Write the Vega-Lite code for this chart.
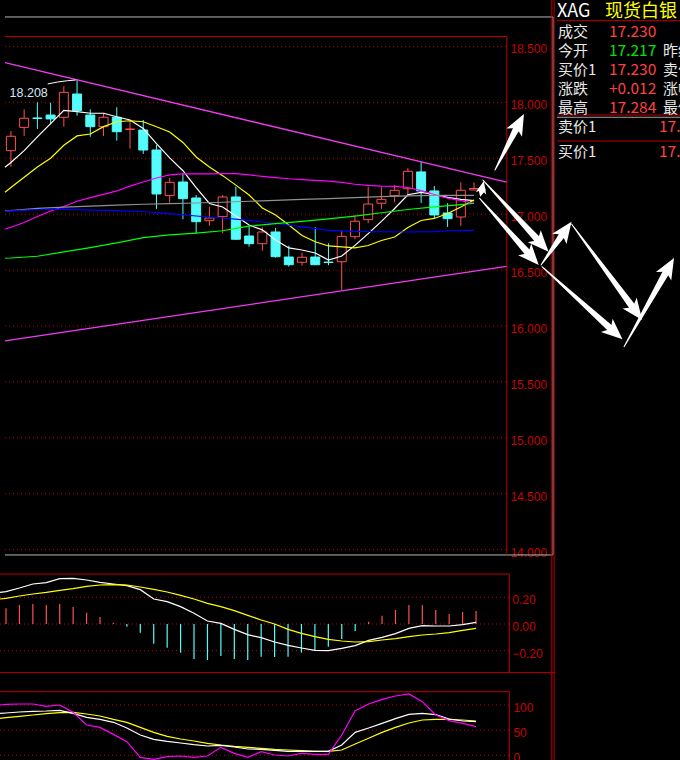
{
  "$schema": "https://vega.github.io/schema/vega-lite/v6.json",
  "width": 680,
  "height": 760,
  "autosize": {"type": "none"},
  "padding": 0,
  "background": "#000000",
  "config": {"view": {"stroke": null}},
  "datasets": {
    "candles": [
      {"i":0,"o":17.568,"h":17.744,"l":17.425,"c":17.697},
      {"i":1,"o":17.777,"h":17.938,"l":17.700,"c":17.858},
      {"i":2,"o":17.861,"h":18.001,"l":17.762,"c":17.856},
      {"i":3,"o":17.887,"h":17.997,"l":17.804,"c":17.852},
      {"i":4,"o":17.867,"h":18.144,"l":17.783,"c":18.090},
      {"i":5,"o":18.075,"h":18.208,"l":17.881,"c":17.926},
      {"i":6,"o":17.887,"h":17.938,"l":17.693,"c":17.783},
      {"i":7,"o":17.783,"h":17.903,"l":17.700,"c":17.867},
      {"i":8,"o":17.867,"h":17.956,"l":17.658,"c":17.738},
      {"i":9,"o":17.758,"h":17.843,"l":17.586,"c":17.762},
      {"i":10,"o":17.753,"h":17.843,"l":17.539,"c":17.574},
      {"i":11,"o":17.574,"h":17.619,"l":17.047,"c":17.181},
      {"i":12,"o":17.166,"h":17.324,"l":17.103,"c":17.285},
      {"i":13,"o":17.288,"h":17.366,"l":16.955,"c":17.139},
      {"i":14,"o":17.145,"h":17.172,"l":16.829,"c":16.933},
      {"i":15,"o":16.942,"h":17.067,"l":16.897,"c":16.966},
      {"i":16,"o":16.978,"h":17.172,"l":16.829,"c":17.154},
      {"i":17,"o":17.154,"h":17.246,"l":16.769,"c":16.776},
      {"i":18,"o":16.805,"h":16.895,"l":16.709,"c":16.736},
      {"i":19,"o":16.736,"h":16.883,"l":16.674,"c":16.841},
      {"i":20,"o":16.841,"h":16.877,"l":16.611,"c":16.620},
      {"i":21,"o":16.617,"h":16.718,"l":16.531,"c":16.548},
      {"i":22,"o":16.570,"h":16.656,"l":16.539,"c":16.615},
      {"i":23,"o":16.617,"h":16.883,"l":16.546,"c":16.548},
      {"i":24,"o":16.572,"h":16.740,"l":16.543,"c":16.568},
      {"i":25,"o":16.575,"h":16.856,"l":16.322,"c":16.802},
      {"i":26,"o":16.799,"h":16.990,"l":16.776,"c":16.937},
      {"i":27,"o":16.951,"h":17.246,"l":16.919,"c":17.091},
      {"i":28,"o":17.098,"h":17.241,"l":17.047,"c":17.133},
      {"i":29,"o":17.166,"h":17.261,"l":17.107,"c":17.214},
      {"i":30,"o":17.228,"h":17.411,"l":17.172,"c":17.384},
      {"i":31,"o":17.378,"h":17.470,"l":17.100,"c":17.208},
      {"i":32,"o":17.208,"h":17.252,"l":16.963,"c":16.993},
      {"i":33,"o":17.011,"h":17.098,"l":16.886,"c":16.960},
      {"i":34,"o":16.975,"h":17.285,"l":16.895,"c":17.214},
      {"i":35,"o":17.217,"h":17.284,"l":17.215,"c":17.230}
    ],
    "ma": [
      {"s":"MA5","i":-0.4468,"v":17.420},{"s":"MA5","i":0,"v":17.462},{"s":"MA5","i":1,"v":17.569},{"s":"MA5","i":2,"v":17.691},{"s":"MA5","i":3,"v":17.810},{"s":"MA5","i":4,"v":17.929},{"s":"MA5","i":5,"v":17.917},{"s":"MA5","i":6,"v":17.903},{"s":"MA5","i":7,"v":17.903},{"s":"MA5","i":8,"v":17.872},{"s":"MA5","i":9,"v":17.843},{"s":"MA5","i":10,"v":17.767},{"s":"MA5","i":11,"v":17.631},{"s":"MA5","i":12,"v":17.504},{"s":"MA5","i":13,"v":17.389},{"s":"MA5","i":14,"v":17.238},{"s":"MA5","i":15,"v":17.096},{"s":"MA5","i":16,"v":17.064},{"s":"MA5","i":17,"v":16.984},{"s":"MA5","i":18,"v":16.903},{"s":"MA5","i":19,"v":16.860},{"s":"MA5","i":20,"v":16.770},{"s":"MA5","i":21,"v":16.698},{"s":"MA5","i":22,"v":16.680},{"s":"MA5","i":23,"v":16.653},{"s":"MA5","i":24,"v":16.590},{"s":"MA5","i":25,"v":16.626},{"s":"MA5","i":26,"v":16.721},{"s":"MA5","i":27,"v":16.826},{"s":"MA5","i":28,"v":16.936},{"s":"MA5","i":29,"v":17.051},{"s":"MA5","i":30,"v":17.174},{"s":"MA5","i":31,"v":17.196},{"s":"MA5","i":32,"v":17.176},{"s":"MA5","i":33,"v":17.150},{"s":"MA5","i":34,"v":17.133},{"s":"MA5","i":35,"v":17.121},
      {"s":"MA10","i":-0.4468,"v":17.196},{"s":"MA10","i":0,"v":17.239},{"s":"MA10","i":1,"v":17.331},{"s":"MA10","i":2,"v":17.422},{"s":"MA10","i":3,"v":17.500},{"s":"MA10","i":4,"v":17.617},{"s":"MA10","i":5,"v":17.700},{"s":"MA10","i":6,"v":17.717},{"s":"MA10","i":7,"v":17.783},{"s":"MA10","i":8,"v":17.827},{"s":"MA10","i":9,"v":17.836},{"s":"MA10","i":10,"v":17.827},{"s":"MA10","i":11,"v":17.782},{"s":"MA10","i":12,"v":17.735},{"s":"MA10","i":13,"v":17.642},{"s":"MA10","i":14,"v":17.512},{"s":"MA10","i":15,"v":17.422},{"s":"MA10","i":16,"v":17.345},{"s":"MA10","i":17,"v":17.260},{"s":"MA10","i":18,"v":17.172},{"s":"MA10","i":19,"v":17.056},{"s":"MA10","i":20,"v":16.993},{"s":"MA10","i":21,"v":16.903},{"s":"MA10","i":22,"v":16.810},{"s":"MA10","i":23,"v":16.754},{"s":"MA10","i":24,"v":16.716},{"s":"MA10","i":25,"v":16.707},{"s":"MA10","i":26,"v":16.698},{"s":"MA10","i":27,"v":16.720},{"s":"MA10","i":28,"v":16.765},{"s":"MA10","i":29,"v":16.796},{"s":"MA10","i":30,"v":16.881},{"s":"MA10","i":31,"v":16.944},{"s":"MA10","i":32,"v":16.962},{"s":"MA10","i":33,"v":17.006},{"s":"MA10","i":34,"v":17.064},{"s":"MA10","i":35,"v":17.127},
      {"s":"MA20","i":-0.4468,"v":16.865},{"s":"MA20","i":0,"v":16.883},{"s":"MA20","i":1,"v":16.926},{"s":"MA20","i":2,"v":16.980},{"s":"MA20","i":3,"v":17.029},{"s":"MA20","i":4,"v":17.069},{"s":"MA20","i":5,"v":17.116},{"s":"MA20","i":6,"v":17.148},{"s":"MA20","i":7,"v":17.178},{"s":"MA20","i":8,"v":17.208},{"s":"MA20","i":9,"v":17.251},{"s":"MA20","i":10,"v":17.288},{"s":"MA20","i":11,"v":17.324},{"s":"MA20","i":12,"v":17.351},{"s":"MA20","i":13,"v":17.360},{"s":"MA20","i":14,"v":17.360},{"s":"MA20","i":15,"v":17.360},{"s":"MA20","i":16,"v":17.363},{"s":"MA20","i":17,"v":17.363},{"s":"MA20","i":18,"v":17.351},{"s":"MA20","i":19,"v":17.338},{"s":"MA20","i":20,"v":17.327},{"s":"MA20","i":21,"v":17.317},{"s":"MA20","i":22,"v":17.310},{"s":"MA20","i":23,"v":17.302},{"s":"MA20","i":24,"v":17.295},{"s":"MA20","i":25,"v":17.285},{"s":"MA20","i":26,"v":17.268},{"s":"MA20","i":27,"v":17.258},{"s":"MA20","i":28,"v":17.251},{"s":"MA20","i":29,"v":17.248},{"s":"MA20","i":30,"v":17.239},{"s":"MA20","i":31,"v":17.211},{"s":"MA20","i":32,"v":17.176},{"s":"MA20","i":33,"v":17.143},{"s":"MA20","i":34,"v":17.122},{"s":"MA20","i":35,"v":17.098},
      {"s":"MA30","i":-0.4468,"v":17.029},{"s":"MA30","i":0,"v":17.032},{"s":"MA30","i":2,"v":17.052},{"s":"MA30","i":4,"v":17.064},{"s":"MA30","i":6,"v":17.073},{"s":"MA30","i":8,"v":17.081},{"s":"MA30","i":10,"v":17.089},{"s":"MA30","i":12,"v":17.095},{"s":"MA30","i":14,"v":17.100},{"s":"MA30","i":16,"v":17.107},{"s":"MA30","i":18,"v":17.116},{"s":"MA30","i":20,"v":17.123},{"s":"MA30","i":22,"v":17.132},{"s":"MA30","i":24,"v":17.140},{"s":"MA30","i":26,"v":17.149},{"s":"MA30","i":28,"v":17.158},{"s":"MA30","i":30,"v":17.164},{"s":"MA30","i":32,"v":17.169},{"s":"MA30","i":35,"v":17.169},
      {"s":"MA120","i":-0.4468,"v":17.026},{"s":"MA120","i":0,"v":17.029},{"s":"MA120","i":2,"v":17.041},{"s":"MA120","i":4,"v":17.045},{"s":"MA120","i":6,"v":17.036},{"s":"MA120","i":8,"v":17.032},{"s":"MA120","i":10,"v":17.022},{"s":"MA120","i":12,"v":17.006},{"s":"MA120","i":14,"v":16.984},{"s":"MA120","i":16,"v":16.966},{"s":"MA120","i":18,"v":16.944},{"s":"MA120","i":20,"v":16.917},{"s":"MA120","i":22,"v":16.886},{"s":"MA120","i":24,"v":16.855},{"s":"MA120","i":26,"v":16.847},{"s":"MA120","i":28,"v":16.843},{"s":"MA120","i":30,"v":16.841},{"s":"MA120","i":32,"v":16.845},{"s":"MA120","i":33,"v":16.852},{"s":"MA120","i":35,"v":16.856},
      {"s":"MA60","i":-0.4468,"v":16.606},{"s":"MA60","i":0,"v":16.608},{"s":"MA60","i":2,"v":16.624},{"s":"MA60","i":4,"v":16.663},{"s":"MA60","i":6,"v":16.701},{"s":"MA60","i":8,"v":16.744},{"s":"MA60","i":10,"v":16.791},{"s":"MA60","i":12,"v":16.815},{"s":"MA60","i":14,"v":16.831},{"s":"MA60","i":16,"v":16.852},{"s":"MA60","i":17,"v":16.874},{"s":"MA60","i":18,"v":16.893},{"s":"MA60","i":20,"v":16.916},{"s":"MA60","i":22,"v":16.936},{"s":"MA60","i":24,"v":16.958},{"s":"MA60","i":26,"v":16.983},{"s":"MA60","i":28,"v":17.013},{"s":"MA60","i":30,"v":17.042},{"s":"MA60","i":32,"v":17.066},{"s":"MA60","i":34,"v":17.086},{"s":"MA60","i":35,"v":17.098}
    ],
    "trend": [
      {"t":"up","i":-0.4468,"p":18.355},{"t":"up","i":37.45,"p":17.287},
      {"t":"lo","i":-0.4468,"p":15.866},{"t":"lo","i":37.45,"p":16.534}
    ],
    "leader": [
      {"i":2.777,"p":18.165},{"i":3.522,"p":18.182},{"i":4.267,"p":18.194},{"i":4.892,"p":18.200}
    ],
    "arrows": [
      {"a":"A","part":"tail","i":36.582,"p":17.395},{"a":"A","part":"neck","i":38.287,"p":17.785},{"a":"A","part":"tip","i":38.771,"p":17.896},
      {"a":"B","part":"tail","i":35.666,"p":17.306},{"a":"B","part":"neck","i":39.926,"p":16.757},{"a":"B","part":"tip","i":40.633,"p":16.665},
      {"a":"C","part":"tail","i":35.421,"p":17.142},{"a":"C","part":"neck","i":39.189,"p":16.639},{"a":"C","part":"tip","i":39.888,"p":16.546},
      {"a":"S","part":"tail","i":35.480,"p":17.163},{"a":"S","part":"neck","i":35.592,"p":17.218},{"a":"S","part":"tip","i":35.741,"p":17.297},
      {"a":"D","part":"tail","i":40.060,"p":16.546},{"a":"D","part":"neck","i":41.757,"p":16.831},{"a":"D","part":"tip","i":42.368,"p":16.933},
      {"a":"E","part":"tail","i":42.368,"p":16.912},{"a":"E","part":"neck","i":47.081,"p":16.154},{"a":"E","part":"tip","i":47.707,"p":16.054},
      {"a":"F","part":"tail","i":40.134,"p":16.530},{"a":"F","part":"neck","i":45.436,"p":15.964},{"a":"F","part":"tip","i":46.218,"p":15.881},
      {"a":"G","part":"tail","i":46.336,"p":15.815},{"a":"G","part":"neck","i":49.598,"p":16.499},{"a":"G","part":"tip","i":50.112,"p":16.608}
    ],
    "macd": [
      {"i":-0.4468,"dif":0.2375,"dea":0.1875},
      {"i":0,"hist":0.1175,"dif":0.2425,"dea":0.1925},
      {"i":1,"hist":0.1425,"dif":0.27,"dea":0.21},
      {"i":2,"hist":0.15,"dif":0.30,"dea":0.225},
      {"i":3,"hist":0.1425,"dif":0.31,"dea":0.2375},
      {"i":4,"hist":0.15,"dif":0.34,"dea":0.2525},
      {"i":5,"hist":0.1275,"dif":0.3425,"dea":0.265},
      {"i":6,"hist":0.085,"dif":0.33,"dea":0.2825},
      {"i":7,"hist":0.0525,"dif":0.3125,"dea":0.2925},
      {"i":8,"hist":0.01,"dif":0.30,"dea":0.295},
      {"i":9,"hist":-0.02,"dif":0.2875,"dea":0.2925},
      {"i":10,"hist":-0.065,"dif":0.2575,"dea":0.2775},
      {"i":11,"hist":-0.1475,"dif":0.1875,"dea":0.26},
      {"i":12,"hist":-0.1775,"dif":0.1675,"dea":0.24},
      {"i":13,"hist":-0.215,"dif":0.13,"dea":0.215},
      {"i":14,"hist":-0.2625,"dif":0.08,"dea":0.1875},
      {"i":15,"hist":-0.27,"dif":0.0225,"dea":0.155},
      {"i":16,"hist":-0.24,"dif":0.005,"dea":0.13},
      {"i":17,"hist":-0.2625,"dif":-0.04,"dea":0.10},
      {"i":18,"hist":-0.27,"dif":-0.08,"dea":0.065},
      {"i":19,"hist":-0.245,"dif":-0.1025,"dea":0.03},
      {"i":20,"hist":-0.2475,"dif":-0.135,"dea":0.0},
      {"i":21,"hist":-0.245,"dif":-0.16,"dea":-0.04},
      {"i":22,"hist":-0.215,"dif":-0.18,"dea":-0.07},
      {"i":23,"hist":-0.2,"dif":-0.1975,"dea":-0.095},
      {"i":24,"hist":-0.17,"dif":-0.20,"dea":-0.115},
      {"i":25,"hist":-0.1125,"dif":-0.1825,"dea":-0.1275},
      {"i":26,"hist":-0.0525,"dif":-0.1625,"dea":-0.135},
      {"i":27,"hist":0.0175,"dif":-0.1225,"dea":-0.1325},
      {"i":28,"hist":0.0625,"dif":-0.10,"dea":-0.12},
      {"i":29,"hist":0.105,"dif":-0.0725,"dea":-0.11},
      {"i":30,"hist":0.1425,"dif":-0.0325,"dea":-0.095},
      {"i":31,"hist":0.1425,"dif":-0.0125,"dea":-0.0825},
      {"i":32,"hist":0.105,"dif":-0.015,"dea":-0.075},
      {"i":33,"hist":0.075,"dif":-0.015,"dea":-0.065},
      {"i":34,"hist":0.09,"dif":-0.005,"dea":-0.0475},
      {"i":35,"hist":0.0975,"dif":0.0125,"dea":-0.0325}
    ],
    "kdj": [
      {"i":-0.4468,"k":83.4,"d":73.5,"j":100},
      {"i":0,"k":84.1,"d":74.8,"j":101.3},
      {"i":1,"k":86.1,"d":77.5,"j":102},
      {"i":2,"k":87.4,"d":80.1,"j":102},
      {"i":3,"k":88.1,"d":82.8,"j":97.4},
      {"i":4,"k":89.4,"d":84.8,"j":100},
      {"i":5,"k":83.4,"d":85.4,"j":85.4},
      {"i":6,"k":75.5,"d":82.1,"j":60.3},
      {"i":7,"k":71.5,"d":78.2,"j":55.6},
      {"i":8,"k":65.6,"d":71.5,"j":41.7},
      {"i":9,"k":54.3,"d":65.6,"j":27.2},
      {"i":10,"k":40.4,"d":55.6,"j":-4.0},
      {"i":11,"k":31.8,"d":45.7,"j":-7.9},
      {"i":12,"k":27.8,"d":37.8,"j":-2.6},
      {"i":13,"k":24.5,"d":32.5,"j":-1.3},
      {"i":14,"k":21.2,"d":28.5,"j":-4.0},
      {"i":15,"k":18.5,"d":23.8,"j":-1.3},
      {"i":16,"k":19.9,"d":20.5,"j":15.9},
      {"i":17,"k":16.6,"d":17.9,"j":4.0},
      {"i":18,"k":12.6,"d":15.9,"j":-4.0},
      {"i":19,"k":11.9,"d":13.9,"j":7.3},
      {"i":20,"k":9.9,"d":11.9,"j":0.7},
      {"i":21,"k":7.9,"d":10.6,"j":-1.3},
      {"i":22,"k":7.9,"d":9.3,"j":4.0},
      {"i":23,"k":7.9,"d":7.9,"j":2.0},
      {"i":24,"k":7.9,"d":7.9,"j":2.0},
      {"i":25,"k":20.5,"d":10.6,"j":40.4},
      {"i":26,"k":45.7,"d":22.5,"j":88.7},
      {"i":27,"k":54.3,"d":33.8,"j":102},
      {"i":28,"k":63.6,"d":45.7,"j":111.3},
      {"i":29,"k":72.9,"d":55.6,"j":117.9},
      {"i":30,"k":81.5,"d":64.2,"j":121.9},
      {"i":31,"k":83.4,"d":70.2,"j":106.6},
      {"i":32,"k":80.8,"d":71.5,"j":80.1},
      {"i":33,"k":72.2,"d":71.5,"j":68.9},
      {"i":34,"k":68.2,"d":70.2,"j":63.6},
      {"i":35,"k":66.9,"d":68.2,"j":57}
    ],
    "gridMain": [{"p":14.0},{"p":14.5},{"p":15.0},{"p":15.5},{"p":16.0},{"p":16.5},{"p":17.0},{"p":17.5},{"p":18.0},{"p":18.5}],
    "gridMacd": [{"m":-0.2},{"m":0},{"m":0.2}],
    "gridKdj": [{"k":0},{"k":50},{"k":100}],
    "info": [
      {"r":-0.06,"c":-0.02,"t":"XAG","k":"hx"},
      {"r":-0.06,"c":0.92,"t":"现货白银","k":"hy"},
      {"r":1,"c":0,"t":"成交","k":"lab"},{"r":1,"c":1,"t":"17.230","k":"up"},
      {"r":2,"c":0,"t":"今开","k":"lab"},{"r":2,"c":1,"t":"17.217","k":"dn"},{"r":2,"c":2.06,"t":"昨结","k":"lab"},
      {"r":3,"c":0,"t":"买价1","k":"lab"},{"r":3,"c":1,"t":"17.230","k":"up"},{"r":3,"c":2.06,"t":"卖价1","k":"lab"},
      {"r":4,"c":0,"t":"涨跌","k":"lab"},{"r":4,"c":1,"t":"+0.012","k":"up"},{"r":4,"c":2.06,"t":"涨幅","k":"lab"},
      {"r":5,"c":0,"t":"最高","k":"lab"},{"r":5,"c":1,"t":"17.284","k":"up"},{"r":5,"c":2.06,"t":"最低","k":"lab"},
      {"r":6,"c":0,"t":"卖价1","k":"lab"},{"r":6,"c":1.98,"t":"17.260","k":"up"},
      {"r":7.27,"c":0,"t":"买价1","k":"lab"},{"r":7.27,"c":1.98,"t":"17.230","k":"up"}
    ]
  },
  "resolve": {"scale": {"x": "independent", "y": "independent", "color": "independent", "shape": "independent", "size": "independent"}},
  "layer": [
    {
      "layer": [
        {"data": {"name": "gridMain"}, "mark": {"type": "rule", "color": "#C00000", "strokeDash": [1, 3], "strokeWidth": 1},
         "encoding": {"x": {"datum": -0.4468, "type": "quantitative", "scale": {"domain": [-0.4468, 50.186], "nice": false, "zero": false}, "axis": null}, "x2": {"datum": 37.476},
                      "y": {"field": "p", "type": "quantitative", "scale": {"domain": [12.1181, 18.9159], "nice": false, "zero": false}, "axis": null}}},
        {"data": {"name": "gridMain"}, "mark": {"type": "text", "align": "left", "baseline": "middle", "dy": 3, "font": "Liberation Sans", "fontSize": 12, "color": "#C80000"},
         "encoding": {"x": {"datum": 37.75, "type": "quantitative", "scale": {"domain": [-0.4468, 50.186], "nice": false, "zero": false}, "axis": null},
                      "y": {"field": "p", "type": "quantitative", "scale": {"domain": [12.1181, 18.9159], "nice": false, "zero": false}, "axis": null},
                      "text": {"field": "p", "type": "quantitative", "format": ".3f"}}},
        {"data": {"values": [{}]}, "mark": {"type": "rule", "color": "#B8B8B8", "strokeWidth": 1},
         "encoding": {"x": {"datum": -0.4468, "type": "quantitative", "scale": {"domain": [-0.4468, 50.186], "nice": false, "zero": false}, "axis": null}, "x2": {"datum": 40.968},
                      "y": {"datum": 18.764, "type": "quantitative", "scale": {"domain": [12.1181, 18.9159], "nice": false, "zero": false}, "axis": null}}},
        {"data": {"values": [{}]}, "mark": {"type": "rule", "color": "#B8B8B8", "strokeWidth": 1},
         "encoding": {"x": {"datum": -0.4468, "type": "quantitative", "scale": {"domain": [-0.4468, 50.186], "nice": false, "zero": false}, "axis": null}, "x2": {"datum": 40.968},
                      "y": {"datum": 13.952, "type": "quantitative", "scale": {"domain": [12.1181, 18.9159], "nice": false, "zero": false}, "axis": null}}},
        {"data": {"values": [{}]}, "mark": {"type": "rule", "color": "#B8B8B8", "strokeWidth": 1},
         "encoding": {"x": {"datum": 40.968, "type": "quantitative", "scale": {"domain": [-0.4468, 50.186], "nice": false, "zero": false}, "axis": null},
                      "y": {"datum": 18.764, "type": "quantitative", "scale": {"domain": [12.1181, 18.9159], "nice": false, "zero": false}, "axis": null}, "y2": {"datum": 13.952}}},
        {"data": {"values": [{}]}, "mark": {"type": "rule", "color": "#C00000", "strokeWidth": 1},
         "encoding": {"x": {"datum": -0.4468, "type": "quantitative", "scale": {"domain": [-0.4468, 50.186], "nice": false, "zero": false}, "axis": null}, "x2": {"datum": 37.476},
                      "y": {"datum": 18.589, "type": "quantitative", "scale": {"domain": [12.1181, 18.9159], "nice": false, "zero": false}, "axis": null}}},
        {"data": {"values": [{}]}, "mark": {"type": "rule", "color": "#C00000", "strokeWidth": 1},
         "encoding": {"x": {"datum": 37.476, "type": "quantitative", "scale": {"domain": [-0.4468, 50.186], "nice": false, "zero": false}, "axis": null},
                      "y": {"datum": 18.589, "type": "quantitative", "scale": {"domain": [12.1181, 18.9159], "nice": false, "zero": false}, "axis": null}, "y2": {"datum": 13.952}}},
        {"data": {"values": [{}]}, "mark": {"type": "rule", "color": "#C00000", "strokeWidth": 1},
         "encoding": {"x": {"datum": 40.879, "type": "quantitative", "scale": {"domain": [-0.4468, 50.186], "nice": false, "zero": false}, "axis": null},
                      "y": {"datum": 18.9159, "type": "quantitative", "scale": {"domain": [12.1181, 18.9159], "nice": false, "zero": false}, "axis": null}, "y2": {"datum": 12.1181}}},
        {"data": {"values": [{}]}, "mark": {"type": "rule", "color": "#C00000", "strokeWidth": 1},
         "encoding": {"x": {"datum": 41.05, "type": "quantitative", "scale": {"domain": [-0.4468, 50.186], "nice": false, "zero": false}, "axis": null},
                      "y": {"datum": 18.9159, "type": "quantitative", "scale": {"domain": [12.1181, 18.9159], "nice": false, "zero": false}, "axis": null}, "y2": {"datum": 12.1181}}},
        {"data": {"name": "candles"}, "mark": {"type": "rule", "strokeWidth": 1},
         "encoding": {"x": {"field": "i", "type": "quantitative", "scale": {"domain": [-0.4468, 50.186], "nice": false, "zero": false}, "axis": null},
                      "y": {"field": "l", "type": "quantitative", "scale": {"domain": [12.1181, 18.9159], "nice": false, "zero": false}, "axis": null}, "y2": {"field": "h"},
                      "color": {"condition": {"test": "datum.c >= datum.o", "value": "#FF5050"}, "value": "#54FCFC"}}},
        {"data": {"name": "candles"}, "mark": {"type": "bar", "width": 9, "strokeWidth": 1},
         "encoding": {"x": {"field": "i", "type": "quantitative", "scale": {"domain": [-0.4468, 50.186], "nice": false, "zero": false}, "axis": null},
                      "y": {"field": "o", "type": "quantitative", "scale": {"domain": [12.1181, 18.9159], "nice": false, "zero": false}, "axis": null}, "y2": {"field": "c"},
                      "fill": {"condition": {"test": "datum.c >= datum.o", "value": "#000000"}, "value": "#54FCFC"},
                      "stroke": {"condition": {"test": "datum.c >= datum.o", "value": "#FF5050"}, "value": "#54FCFC"}}},
        {"data": {"name": "ma"}, "mark": {"type": "line", "strokeWidth": 1.2},
         "encoding": {"x": {"field": "i", "type": "quantitative", "scale": {"domain": [-0.4468, 50.186], "nice": false, "zero": false}, "axis": null},
                      "y": {"field": "v", "type": "quantitative", "scale": {"domain": [12.1181, 18.9159], "nice": false, "zero": false}, "axis": null},
                      "color": {"field": "s", "type": "nominal", "scale": {"domain": ["MA5", "MA10", "MA20", "MA30", "MA60", "MA120"], "range": ["#FFFFFF", "#FFFF00", "#FF00FF", "#909090", "#00FF00", "#0000FF"]}, "legend": null}}},
        {"data": {"name": "trend"}, "mark": {"type": "line", "color": "#F03CF0", "strokeWidth": 1.3},
         "encoding": {"x": {"field": "i", "type": "quantitative", "scale": {"domain": [-0.4468, 50.186], "nice": false, "zero": false}, "axis": null},
                      "y": {"field": "p", "type": "quantitative", "scale": {"domain": [12.1181, 18.9159], "nice": false, "zero": false}, "axis": null},
                      "detail": {"field": "t", "type": "nominal"}}},
        {"data": {"name": "leader"}, "mark": {"type": "line", "color": "#FFFFFF", "strokeWidth": 1},
         "encoding": {"x": {"field": "i", "type": "quantitative", "scale": {"domain": [-0.4468, 50.186], "nice": false, "zero": false}, "axis": null},
                      "y": {"field": "p", "type": "quantitative", "scale": {"domain": [12.1181, 18.9159], "nice": false, "zero": false}, "axis": null}}},
        {"data": {"name": "candles"}, "transform": [{"filter": "datum.i == 5"}],
         "mark": {"type": "text", "align": "left", "baseline": "middle", "dx": -67.5, "dy": 13.7, "font": "Liberation Sans", "fontSize": 12.5, "color": "#D8E6F8"},
         "encoding": {"x": {"field": "i", "type": "quantitative", "scale": {"domain": [-0.4468, 50.186], "nice": false, "zero": false}, "axis": null},
                      "y": {"field": "h", "type": "quantitative", "scale": {"domain": [12.1181, 18.9159], "nice": false, "zero": false}, "axis": null},
                      "text": {"field": "h", "type": "quantitative", "format": ".3f"}}},
        {"data": {"name": "arrows"}, "transform": [{"filter": "datum.part !== 'tip'"}], "mark": {"type": "trail", "color": "#FFFFFF"},
         "encoding": {"x": {"field": "i", "type": "quantitative", "scale": {"domain": [-0.4468, 50.186], "nice": false, "zero": false}, "axis": null},
                      "y": {"field": "p", "type": "quantitative", "scale": {"domain": [12.1181, 18.9159], "nice": false, "zero": false}, "axis": null},
                      "detail": {"field": "a", "type": "nominal"},
                      "size": {"condition": {"test": "datum.part === 'neck'", "value": 7}, "value": 1}}},
        {"data": {"name": "arrows"}, "transform": [{"filter": "datum.part === 'tip'"}], "mark": {"type": "point", "filled": true, "color": "#FFFFFF", "opacity": 1, "size": 1764, "strokeWidth": 0},
         "encoding": {"x": {"field": "i", "type": "quantitative", "scale": {"domain": [-0.4468, 50.186], "nice": false, "zero": false}, "axis": null},
                      "y": {"field": "p", "type": "quantitative", "scale": {"domain": [12.1181, 18.9159], "nice": false, "zero": false}, "axis": null},
                      "shape": {"field": "a", "type": "nominal", "legend": null, "scale": {"domain": ["A", "B", "C", "S", "D", "E", "F", "G"],
                        "range": ["M0,0L-0.093,1.081L-0.349,0.664L-0.837,0.69Z", "M0,0L-0.989,-0.446L-0.511,-0.549L-0.374,-1.018Z", "M0,0L-0.981,-0.463L-0.502,-0.558L-0.357,-1.025Z", "M0,0L0.109,0.642L-0.102,0.438L-0.382,0.527Z", "M0,0L-0.241,1.058L-0.437,0.61L-0.924,0.569Z", "M0,0L-0.935,-0.55L-0.449,-0.601L-0.262,-1.053Z", "M0,0L-1.027,-0.35L-0.561,-0.498L-0.469,-0.978Z", "M0,0L-0.132,1.076L-0.372,0.651L-0.861,0.66Z"]}}}}
      ]
    },
    {
      "layer": [
        {"data": {"name": "gridMacd"}, "mark": {"type": "rule", "color": "#C00000", "strokeDash": [1, 3], "strokeWidth": 1},
         "encoding": {"x": {"datum": -0.4468, "type": "quantitative", "scale": {"domain": [-0.4468, 50.186], "nice": false, "zero": false}, "axis": null}, "x2": {"datum": 37.476},
                      "y": {"field": "m", "type": "quantitative", "scale": {"domain": [-1.02, 4.68], "nice": false, "zero": false}, "axis": null}}},
        {"data": {"name": "gridMacd"}, "mark": {"type": "text", "align": "left", "baseline": "middle", "dy": 3, "font": "Liberation Sans", "fontSize": 12, "color": "#C80000"},
         "encoding": {"x": {"datum": 37.7, "type": "quantitative", "scale": {"domain": [-0.4468, 50.186], "nice": false, "zero": false}, "axis": null},
                      "y": {"field": "m", "type": "quantitative", "scale": {"domain": [-1.02, 4.68], "nice": false, "zero": false}, "axis": null},
                      "text": {"field": "m", "type": "quantitative", "format": ".2f"}}},
        {"data": {"values": [{}]}, "mark": {"type": "rule", "color": "#C00000", "strokeWidth": 1},
         "encoding": {"x": {"datum": -0.4468, "type": "quantitative", "scale": {"domain": [-0.4468, 50.186], "nice": false, "zero": false}, "axis": null}, "x2": {"datum": 37.476},
                      "y": {"datum": 0.375, "type": "quantitative", "scale": {"domain": [-1.02, 4.68], "nice": false, "zero": false}, "axis": null}}},
        {"data": {"values": [{}]}, "mark": {"type": "rule", "color": "#C00000", "strokeWidth": 1},
         "encoding": {"x": {"datum": 37.476, "type": "quantitative", "scale": {"domain": [-0.4468, 50.186], "nice": false, "zero": false}, "axis": null},
                      "y": {"datum": 0.375, "type": "quantitative", "scale": {"domain": [-1.02, 4.68], "nice": false, "zero": false}, "axis": null}, "y2": {"datum": -0.365}}},
        {"data": {"values": [{}]}, "mark": {"type": "rule", "color": "#C00000", "strokeWidth": 1},
         "encoding": {"x": {"datum": -0.4468, "type": "quantitative", "scale": {"domain": [-0.4468, 50.186], "nice": false, "zero": false}, "axis": null}, "x2": {"datum": 40.879},
                      "y": {"datum": -0.365, "type": "quantitative", "scale": {"domain": [-1.02, 4.68], "nice": false, "zero": false}, "axis": null}}},
        {"data": {"name": "macd"}, "transform": [{"filter": "isValid(datum.hist)"}], "mark": {"type": "rule", "strokeWidth": 1.2},
         "encoding": {"x": {"field": "i", "type": "quantitative", "scale": {"domain": [-0.4468, 50.186], "nice": false, "zero": false}, "axis": null},
                      "y": {"field": "hist", "type": "quantitative", "scale": {"domain": [-1.02, 4.68], "nice": false, "zero": false}, "axis": null}, "y2": {"datum": 0},
                      "color": {"condition": {"test": "datum.hist >= 0", "value": "#FF5050"}, "value": "#54FCFC"}}},
        {"data": {"name": "macd"}, "mark": {"type": "line", "color": "#FFFFFF", "strokeWidth": 1.2},
         "encoding": {"x": {"field": "i", "type": "quantitative", "scale": {"domain": [-0.4468, 50.186], "nice": false, "zero": false}, "axis": null},
                      "y": {"field": "dif", "type": "quantitative", "scale": {"domain": [-1.02, 4.68], "nice": false, "zero": false}, "axis": null}}},
        {"data": {"name": "macd"}, "mark": {"type": "line", "color": "#FFFF00", "strokeWidth": 1.2},
         "encoding": {"x": {"field": "i", "type": "quantitative", "scale": {"domain": [-0.4468, 50.186], "nice": false, "zero": false}, "axis": null},
                      "y": {"field": "dea", "type": "quantitative", "scale": {"domain": [-1.02, 4.68], "nice": false, "zero": false}, "axis": null}}}
      ]
    },
    {
      "layer": [
        {"data": {"name": "gridKdj"}, "mark": {"type": "rule", "color": "#C00000", "strokeDash": [1, 3], "strokeWidth": 1},
         "encoding": {"x": {"datum": -0.4468, "type": "quantitative", "scale": {"domain": [-0.4468, 50.186], "nice": false, "zero": false}, "axis": null}, "x2": {"datum": 37.476},
                      "y": {"field": "k", "type": "quantitative", "scale": {"domain": [-9.28, 1500.8], "nice": false, "zero": false}, "axis": null}}},
        {"data": {"name": "gridKdj"}, "mark": {"type": "text", "align": "left", "baseline": "middle", "dy": 3, "font": "Liberation Sans", "fontSize": 12, "color": "#C80000"},
         "encoding": {"x": {"datum": 37.78, "type": "quantitative", "scale": {"domain": [-0.4468, 50.186], "nice": false, "zero": false}, "axis": null},
                      "y": {"field": "k", "type": "quantitative", "scale": {"domain": [-9.28, 1500.8], "nice": false, "zero": false}, "axis": null},
                      "text": {"field": "k", "type": "quantitative", "format": "d"}}},
        {"data": {"values": [{}]}, "mark": {"type": "rule", "color": "#C00000", "strokeWidth": 1},
         "encoding": {"x": {"datum": -0.4468, "type": "quantitative", "scale": {"domain": [-0.4468, 50.186], "nice": false, "zero": false}, "axis": null}, "x2": {"datum": 37.476},
                      "y": {"datum": 126.4, "type": "quantitative", "scale": {"domain": [-9.28, 1500.8], "nice": false, "zero": false}, "axis": null}}},
        {"data": {"values": [{}]}, "mark": {"type": "rule", "color": "#C00000", "strokeWidth": 1},
         "encoding": {"x": {"datum": 37.476, "type": "quantitative", "scale": {"domain": [-0.4468, 50.186], "nice": false, "zero": false}, "axis": null},
                      "y": {"datum": 126.4, "type": "quantitative", "scale": {"domain": [-9.28, 1500.8], "nice": false, "zero": false}, "axis": null}, "y2": {"datum": -9.28}}},
        {"data": {"name": "kdj"}, "mark": {"type": "line", "color": "#FFFF00", "strokeWidth": 1.2},
         "encoding": {"x": {"field": "i", "type": "quantitative", "scale": {"domain": [-0.4468, 50.186], "nice": false, "zero": false}, "axis": null},
                      "y": {"field": "d", "type": "quantitative", "scale": {"domain": [-9.28, 1500.8], "nice": false, "zero": false}, "axis": null}}},
        {"data": {"name": "kdj"}, "mark": {"type": "line", "color": "#FFFFFF", "strokeWidth": 1.2},
         "encoding": {"x": {"field": "i", "type": "quantitative", "scale": {"domain": [-0.4468, 50.186], "nice": false, "zero": false}, "axis": null},
                      "y": {"field": "k", "type": "quantitative", "scale": {"domain": [-9.28, 1500.8], "nice": false, "zero": false}, "axis": null}}},
        {"data": {"name": "kdj"}, "mark": {"type": "line", "color": "#FF00FF", "strokeWidth": 1.2},
         "encoding": {"x": {"field": "i", "type": "quantitative", "scale": {"domain": [-0.4468, 50.186], "nice": false, "zero": false}, "axis": null},
                      "y": {"field": "j", "type": "quantitative", "scale": {"domain": [-9.28, 1500.8], "nice": false, "zero": false}, "axis": null}}}
      ]
    },
    {
      "layer": [
        {"data": {"values": [{}]}, "mark": {"type": "rule", "color": "#C00000", "strokeWidth": 1},
         "encoding": {"x": {"datum": -0.02, "type": "quantitative", "scale": {"domain": [-10.941, 2.392], "nice": false, "zero": false}, "axis": null}, "x2": {"datum": 2.392},
                      "y": {"datum": 0.409, "type": "quantitative", "scale": {"domain": [-0.675, 39.115], "nice": false, "zero": false, "reverse": true}, "axis": null}}},
        {"data": {"values": [{}]}, "mark": {"type": "rule", "color": "#C00000", "strokeWidth": 1},
         "encoding": {"x": {"datum": -0.02, "type": "quantitative", "scale": {"domain": [-10.941, 2.392], "nice": false, "zero": false}, "axis": null}, "x2": {"datum": 2.392},
                      "y": {"datum": 5.346, "type": "quantitative", "scale": {"domain": [-0.675, 39.115], "nice": false, "zero": false, "reverse": true}, "axis": null}}},
        {"data": {"values": [{}]}, "mark": {"type": "rule", "color": "#A0A0A0", "strokeWidth": 1},
         "encoding": {"x": {"datum": -0.02, "type": "quantitative", "scale": {"domain": [-10.941, 2.392], "nice": false, "zero": false}, "axis": null}, "x2": {"datum": 2.392},
                      "y": {"datum": 5.466, "type": "quantitative", "scale": {"domain": [-0.675, 39.115], "nice": false, "zero": false, "reverse": true}, "axis": null}}},
        {"data": {"values": [{}]}, "mark": {"type": "rule", "color": "#C00000", "strokeWidth": 1},
         "encoding": {"x": {"datum": -0.02, "type": "quantitative", "scale": {"domain": [-10.941, 2.392], "nice": false, "zero": false}, "axis": null}, "x2": {"datum": 2.392},
                      "y": {"datum": 6.707, "type": "quantitative", "scale": {"domain": [-0.675, 39.115], "nice": false, "zero": false, "reverse": true}, "axis": null}}},
        {"data": {"name": "info"}, "transform": [{"filter": "datum.k === 'hx' || datum.k === 'hy'"}],
         "mark": {"type": "text", "align": "left", "baseline": "middle", "font": "Noto Sans CJK SC", "fontSize": 18},
         "encoding": {"x": {"field": "c", "type": "quantitative", "scale": {"domain": [-10.941, 2.392], "nice": false, "zero": false}, "axis": null},
                      "y": {"field": "r", "type": "quantitative", "scale": {"domain": [-0.675, 39.115], "nice": false, "zero": false, "reverse": true}, "axis": null},
                      "text": {"field": "t", "type": "nominal"},
                      "color": {"field": "k", "type": "nominal", "legend": null, "scale": {"domain": ["lab", "up", "dn", "hx", "hy"], "range": ["#E8E8E8", "#FF4040", "#00E400", "#FFFFFF", "#FFFF00"]}}}},
        {"data": {"name": "info"}, "transform": [{"filter": "datum.k === 'lab'"}],
         "mark": {"type": "text", "align": "left", "baseline": "middle", "font": "Noto Sans CJK SC", "fontSize": 15},
         "encoding": {"x": {"field": "c", "type": "quantitative", "scale": {"domain": [-10.941, 2.392], "nice": false, "zero": false}, "axis": null},
                      "y": {"field": "r", "type": "quantitative", "scale": {"domain": [-0.675, 39.115], "nice": false, "zero": false, "reverse": true}, "axis": null},
                      "text": {"field": "t", "type": "nominal"},
                      "color": {"field": "k", "type": "nominal", "legend": null, "scale": {"domain": ["lab", "up", "dn", "hx", "hy"], "range": ["#E8E8E8", "#FF4040", "#00E400", "#FFFFFF", "#FFFF00"]}}}},
        {"data": {"name": "info"}, "transform": [{"filter": "datum.k === 'up' || datum.k === 'dn'"}],
         "mark": {"type": "text", "align": "left", "baseline": "middle", "font": "Noto Sans CJK SC", "fontSize": 15.5},
         "encoding": {"x": {"field": "c", "type": "quantitative", "scale": {"domain": [-10.941, 2.392], "nice": false, "zero": false}, "axis": null},
                      "y": {"field": "r", "type": "quantitative", "scale": {"domain": [-0.675, 39.115], "nice": false, "zero": false, "reverse": true}, "axis": null},
                      "text": {"field": "t", "type": "nominal"},
                      "color": {"field": "k", "type": "nominal", "legend": null, "scale": {"domain": ["lab", "up", "dn", "hx", "hy"], "range": ["#E8E8E8", "#FF4040", "#00E400", "#FFFFFF", "#FFFF00"]}}}}
      ]
    }
  ]
}
